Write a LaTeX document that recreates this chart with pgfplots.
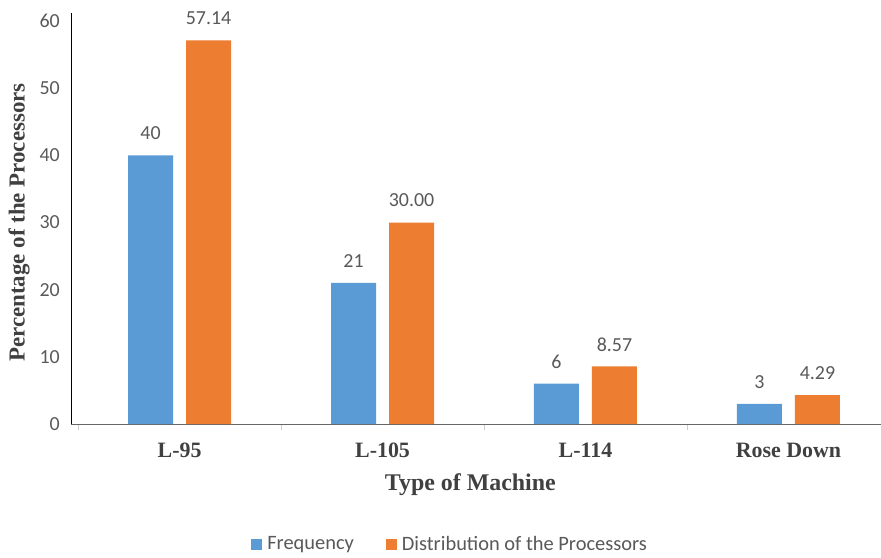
\documentclass[border=0pt]{standalone}
\usepackage{fontspec}
\setmainfont{Liberation Serif}
\newfontfamily\calibri{Carlito}
\usepackage{pgfplots}
\pgfplotsset{compat=1.18}
\definecolor{barblue}{HTML}{5B9BD5}
\definecolor{barorange}{HTML}{ED7D31}
\definecolor{txtgrey}{HTML}{595959}
\definecolor{ttlgrey}{HTML}{404040}
\begin{document}
\begin{tikzpicture}
\useasboundingbox (-71bp,-134bp) rectangle (810bp,424bp);
\begin{axis}[
    scale only axis,
    width=810bp, height=411bp,
    ybar,
    bar width=45bp,
    xmin=-0.535, xmax=3.456,
    ymin=0, ymax=61.2,
    axis lines*=left,
    x axis line style={draw=gray!80!black},
    y axis line style={draw=black},
    xtick={0,1,2,3},
    xticklabels={L-95,L-105,L-114,Rose Down},
    minor xtick={-0.5,0.5,1.5,2.5},
    ytick={0,10,...,60},
    major tick length=0pt,
    minor tick length=6bp,
    tick align=outside,
    minor tick style={draw=gray!40},
    /pgf/number format/assume math mode=true,
    xticklabel style={font=\fontsize{22}{24}\selectfont\bfseries, text=ttlgrey, anchor=center, yshift=-26bp},
    yticklabel style={font=\calibri\fontsize{20}{22}\selectfont, text=txtgrey, anchor=east, inner sep=0pt, xshift=-11bp},
    xlabel={Type of Machine},
    ylabel={Percentage of the Processors},
    xlabel style={font=\fontsize{24}{26}\selectfont\bfseries, text=ttlgrey, at={(axis description cs:0.493,-0.148)}, anchor=center},
    ylabel style={font=\fontsize{23}{25}\selectfont\bfseries, text=ttlgrey, at={(axis description cs:-0.064,0.49)}, anchor=center},
    point meta=explicit symbolic,
    nodes near coords,
    nodes near coords style={font=\calibri\fontsize{20}{22}\selectfont, text=txtgrey, anchor=center, yshift=22bp},
    legend columns=2,
    legend style={draw=none, at={(0.468,-0.292)}, anchor=center, font=\calibri\fontsize{20.5}{22}\selectfont, text=txtgrey, /tikz/every even column/.append style={column sep=30bp}},
    legend image code/.code={\fill[#1] (0bp,-5.5bp) rectangle (11bp,5.5bp); \path (14bp,0bp);},
]
\addplot[fill=barblue, draw=none, bar shift=-29bp] coordinates {
    (0,40)[40]
    (1,21)[21]
    (2,6)[6]
    (3,3)[3]
};
\addplot[fill=barorange, draw=none, bar shift=29bp] coordinates {
    (0,57.14)[57.14]
    (1,30.00)[30.00]
    (2,8.57)[8.57]
    (3,4.29)[4.29]
};
\legend{Frequency,Distribution of the Processors}
\end{axis}
\end{tikzpicture}
\end{document}
